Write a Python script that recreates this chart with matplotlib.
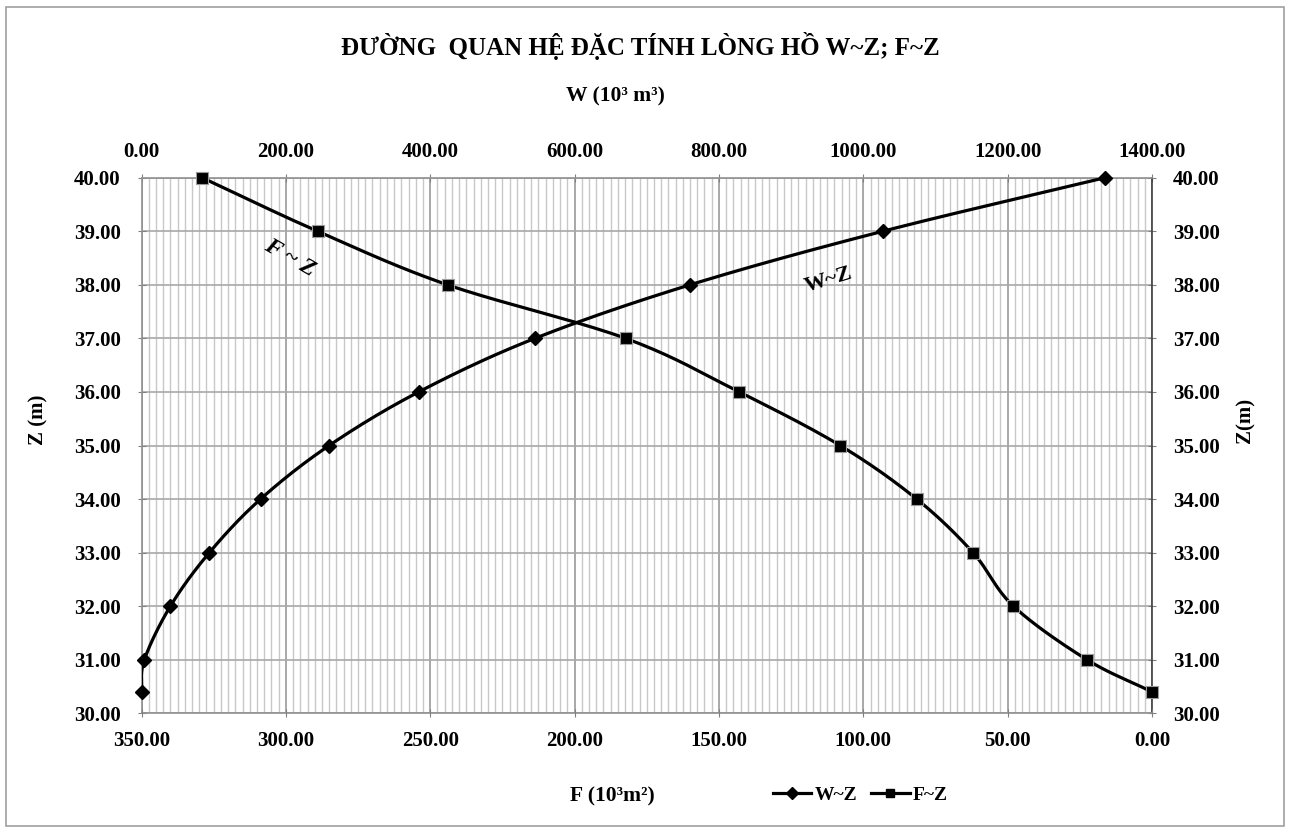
import numpy as np
import matplotlib
matplotlib.use("Agg")
import matplotlib.pyplot as plt
from matplotlib.ticker import MultipleLocator, FormatStrFormatter
from matplotlib.patches import Rectangle
from matplotlib.lines import Line2D

# ---- data ----
Z = [30.4, 31, 32, 33, 34, 35, 36, 37, 38, 39, 40]
W = [0, 4, 40, 94, 165, 260, 384, 545, 760, 1027, 1335]
F = [0, 22.5, 48, 62, 81.5, 108, 143, 182.3, 244, 289, 329]
W_ticks = [0, 200, 400, 600, 800, 1000, 1200, 1400]
F_ticks = [350, 300, 250, 200, 150, 100, 50, 0]
Z_ticks = [30, 31, 32, 33, 34, 35, 36, 37, 38, 39, 40]

title = "ĐƯỜNG  QUAN HỆ ĐẶC TÍNH LÒNG HỒ W~Z; F~Z"

plt.rcParams['font.family'] = ['Liberation Serif', 'DejaVu Serif']
plt.rcParams['font.weight'] = 'bold'

W_PX, H_PX = 1290, 832
fig = plt.figure(figsize=(W_PX / 100, H_PX / 100), dpi=100)


def fx(px):
    return px / W_PX


def fy(py):
    return 1 - py / H_PX


def smooth(xs, ys, n=20):
    """Catmull-Rom style smoothing for drawing the line (like Excel smoothed lines)."""
    xs = np.asarray(xs, float)
    ys = np.asarray(ys, float)
    px = np.concatenate([[2 * xs[0] - xs[1]], xs, [2 * xs[-1] - xs[-2]]])
    py = np.concatenate([[2 * ys[0] - ys[1]], ys, [2 * ys[-1] - ys[-2]]])
    ox, oy = [], []
    t = np.linspace(0, 1, n, endpoint=False)
    for i in range(1, len(px) - 2):
        for arr, out in ((px, ox), (py, oy)):
            p0, p1, p2, p3 = arr[i - 1], arr[i], arr[i + 1], arr[i + 2]
            out.extend(0.5 * ((2 * p1) + (-p0 + p2) * t +
                              (2 * p0 - 5 * p1 + 4 * p2 - p3) * t ** 2 +
                              (-p0 + 3 * p1 - 3 * p2 + p3) * t ** 3))
    ox.append(xs[-1])
    oy.append(ys[-1])
    return np.array(ox), np.array(oy)


left, right, top, bottom = 141.5, 1152, 177.7, 713.3
ax = fig.add_axes([fx(left), fy(bottom), fx(right) - fx(left), fy(top) - fy(bottom)])
axf = ax.twiny()

TICK_FS = 15
LW = 2.3

# W axis (top)
ax.set_xlim(0, 1400)
ax.set_ylim(30, 40)
ax.xaxis.tick_top()
ax.xaxis.set_label_position('top')
ax.set_xticks(W_ticks)
ax.xaxis.set_minor_locator(MultipleLocator(10))
ax.xaxis.set_major_formatter(FormatStrFormatter('%.2f'))
ax.set_yticks(Z_ticks)
ax.yaxis.set_major_formatter(FormatStrFormatter('%.2f'))
ax.tick_params(axis='x', which='major', length=6, direction='inout', pad=8,
               labelsize=TICK_FS, color='#808080', top=True, bottom=False,
               labeltop=True, labelbottom=False)
ax.tick_params(axis='x', which='minor', length=0, top=False, bottom=False)
ax.tick_params(axis='y', which='major', length=6, direction='inout', pad=12,
               labelsize=TICK_FS, color='#808080', right=True, labelright=True)
for lab in ax.get_xticklabels() + ax.get_yticklabels():
    lab.set_fontweight('bold')

ax.grid(True, which='minor', axis='x', color='#c8c8c8', lw=1.0)
ax.grid(True, which='major', axis='x', color='#9a9a9a', lw=1.2)
ax.grid(True, which='major', axis='y', color='#a8a8a8', lw=1.2)
ax.set_axisbelow(True)
for s in ['left', 'top', 'bottom']:
    ax.spines[s].set_color('#909090')
    ax.spines[s].set_linewidth(1.2)
ax.spines['right'].set_color('#404040')
ax.spines['right'].set_linewidth(1.2)

# W~Z curve
sx, sy = smooth(W, Z)
ax.plot(sx, sy, color='black', lw=LW, zorder=3)
ax.plot(W, Z, linestyle='none', marker='D', markersize=7, color='black', zorder=4,
        clip_on=False)

# F axis (bottom)
axf.set_xlim(350, 0)
axf.xaxis.tick_bottom()
axf.xaxis.set_label_position('bottom')
axf.set_xticks(F_ticks)
axf.xaxis.set_major_formatter(FormatStrFormatter('%.2f'))
axf.tick_params(axis='x', which='major', length=6, direction='inout', pad=10,
                labelsize=TICK_FS, color='#808080', top=False, bottom=True,
                labeltop=False, labelbottom=True)
axf.tick_params(axis='x', which='minor', length=0)
for lab in axf.get_xticklabels():
    lab.set_fontweight('bold')
for s in axf.spines.values():
    s.set_visible(False)

fxs, fys = smooth(F, Z)
axf.plot(fxs, fys, color='black', lw=LW, zorder=3)
axf.plot(F, Z, linestyle='none', marker='s', markersize=8, color='black',
         markeredgecolor='#9a9a9a', markeredgewidth=0.8, zorder=4, clip_on=False)

# legend
h1 = Line2D([], [], color='black', lw=LW, marker='D', markersize=6)
h2 = Line2D([], [], color='black', lw=LW, marker='s', markersize=6)
fig.legend([h1, h2], ['W~Z', 'F~Z'], ncol=2, frameon=False,
           loc='center', bbox_to_anchor=(fx(860), fy(795)),
           prop={'family': 'Liberation Serif', 'weight': 'bold', 'size': 14},
           handlelength=2.0, handletextpad=0.15, columnspacing=0.7)

# texts
fig.text(fx(640), fy(46), title, ha='center', va='center', fontsize=18, fontweight='bold')
fig.text(fx(615), fy(96), "W (10³ m³)", ha='center', va='center', fontsize=15.5, fontweight='bold')
fig.text(fx(612), fy(796), "F (10³m²)", ha='center', va='center', fontsize=15.5, fontweight='bold')
fig.text(fx(38), fy(420), "Z (m)", ha='center', va='center', rotation=90, fontsize=15, fontweight='bold')
fig.text(fx(1245), fy(420), "Z(m)", ha='center', va='center', rotation=90, fontsize=15, fontweight='bold')
fig.text(fx(290), fy(258), "F ~ Z", ha='center', va='center', rotation=-30, fontsize=17,
         fontweight='bold', style='italic')
fig.text(fx(829), fy(280), "W~Z", ha='center', va='center', rotation=17, fontsize=16, fontweight='bold')

# outer border
fig.patches.append(Rectangle((fx(6), fy(826)), fx(1284) - fx(6), fy(7) - fy(826),
                             transform=fig.transFigure, fill=False,
                             edgecolor='#a0a0a0', lw=1.2))

fig.savefig('out.png', dpi=100)
